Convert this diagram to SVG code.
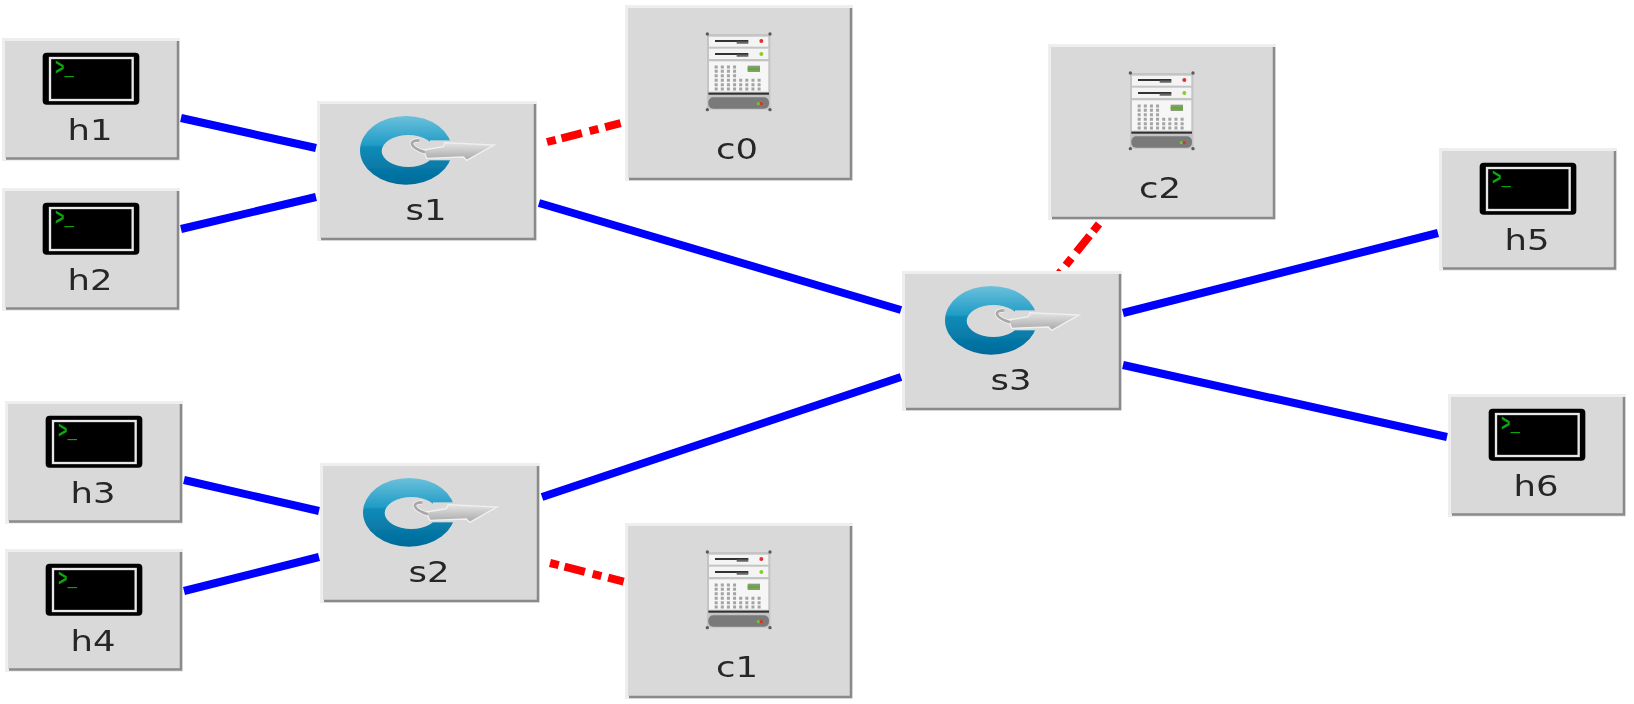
<svg xmlns="http://www.w3.org/2000/svg" width="1634" height="704" viewBox="0 0 1634 704">
<style>
.bo{fill:#eeeeee}
.bg{fill:#d9d9d9}
.ed{fill:none;stroke:#8a8a8a;stroke-width:2.5}
.lb{font-family:"DejaVu Sans",sans-serif;font-size:29px;fill:#262626;text-anchor:middle;filter:url(#soft)}
.pr{font-family:"Liberation Mono",monospace;font-size:24px;fill:#0aa80a;font-weight:bold;filter:url(#soft)}
.link{stroke:#0000ff;stroke-width:8;fill:none}
.ctl{stroke:#ff0000;stroke-width:8;fill:none;stroke-dasharray:9 6 21 8 9 7 16 8}
.dot{stroke:#a4a4a4;stroke-width:9;stroke-dasharray:9 9.4;fill:none}
</style>
<defs>
<filter id="soft" x="-5%" y="-5%" width="110%" height="110%"><feGaussianBlur stdDeviation="0.6"/></filter>
<linearGradient id="ring" x1="0" y1="0" x2="0" y2="1">
<stop offset="0" stop-color="#6cc0dc"/><stop offset=".42" stop-color="#1f9cc6"/><stop offset=".45" stop-color="#0f8cb8"/><stop offset="1" stop-color="#006a9a"/>
</linearGradient>
<linearGradient id="arr" x1="0" y1="0" x2="0" y2="1">
<stop offset="0" stop-color="#e4e4e4"/><stop offset="1" stop-color="#a8a8a8"/>
</linearGradient>
<g id="hostBox" filter="url(#soft)">
<rect class="bo" width="178" height="123"/>
<rect class="bg" x="3" y="3" width="172" height="117"/>
<path class="ed" d="M176 3V120.500H4"/>
<g transform="translate(-2,-8) scale(.33333)">
<rect x="128" y="68" width="290" height="156" rx="12" fill="#000"/>
<rect x="150" y="84" width="248" height="126" fill="#000" stroke="#e8e8e8" stroke-width="7"/>
</g>
</g>
<g id="switchBox" filter="url(#soft)">
<rect class="bo" width="220" height="140"/>
<rect class="bg" x="3" y="3" width="214" height="134"/>
<path class="ed" d="M218 3V138H4"/>
<g transform="translate(-7,-6) scale(.33333)">
<path d="M150 166A138 103 0 1 0 426 166A138 103 0 1 0 150 166ZM215 168A80 48 0 1 0 375 168A80 48 0 1 0 215 168Z" fill="url(#ring)" fill-rule="evenodd"/>
<rect x="360" y="136" width="72" height="60" fill="#d9d9d9"/>
<path d="M340 165L400 155L405 143L552 150L470 196L460 186L350 190Z" fill="url(#arr)" stroke="#f0f0f0" stroke-width="4"/>
<path d="M328 136C296 136 296 156 345 172" fill="none" stroke="#f2f2f2" stroke-width="13"/>
<path d="M328 136C296 136 296 156 345 172" fill="none" stroke="#a8a8a8" stroke-width="8"/>
</g>
</g>
<g id="ctlBox" filter="url(#soft)">
<rect class="bo" width="228" height="176"/>
<rect class="bg" x="3" y="3" width="222" height="170"/>
<path class="ed" d="M226 3V174H4"/>
<g transform="translate(-95,-5) scale(.33333)">
<rect x="531" y="102" width="190" height="227" fill="#c4c4c4"/>
<g fill="#5a5a5a"><circle cx="532" cy="102" r="5"/><circle cx="720" cy="102" r="5"/><circle cx="532" cy="329" r="5"/><circle cx="720" cy="329" r="5"/></g>
<rect x="537" y="110" width="178" height="30" fill="#f4f4f4"/>
<rect x="537" y="146" width="178" height="31" fill="#f4f4f4"/>
<rect x="537" y="184" width="178" height="91" fill="#f6f6f6"/>
<path d="M555 123H655M555 162H655" stroke="#333" stroke-width="6"/>
<path d="M620 128H655M620 167H655" stroke="#666" stroke-width="7"/>
<circle cx="694" cy="123" r="6" fill="#e03030"/>
<circle cx="694" cy="162" r="6" fill="#88cc33"/>
<rect x="653" y="197" width="37" height="19" fill="#8a9a80"/>
<rect x="653" y="203" width="37" height="8" fill="#66aa33"/>
<path class="dot" d="M554 201H622M554 214H622M554 227H622M554 241H694M554 254H694M554 267H694"/>
<rect x="535" y="278" width="182" height="6" fill="#2e2e2e"/>
<rect x="535" y="292" width="182" height="34" rx="15" fill="#7a7a7a"/>
<circle cx="685" cy="311" r="5" fill="#66cc33"/>
<circle cx="694" cy="311" r="5" fill="#dd3322"/>
</g>
</g>
</defs>
<rect width="1634" height="704" fill="#ffffff"/>
<g id="connectors" filter="url(#soft)">
<line class="link" x1="181" y1="118" x2="316" y2="148"/>
<line class="link" x1="181" y1="229" x2="316" y2="197"/>
<line class="link" x1="539" y1="203" x2="901" y2="310"/>
<line class="link" x1="184" y1="480" x2="319" y2="511"/>
<line class="link" x1="184" y1="591" x2="319" y2="557"/>
<line class="link" x1="542" y1="497" x2="901" y2="377"/>
<line class="link" x1="1123" y1="313" x2="1438" y2="233"/>
<line class="link" x1="1123" y1="365" x2="1447" y2="437"/>
<line class="ctl" x1="547" y1="142" x2="625" y2="122"/>
<line class="ctl" x1="550" y1="563" x2="625" y2="582"/>
<line class="ctl" x1="1099" y1="224" x2="1058" y2="275"/>
</g>
<g id="h1" transform="translate(2,38)"><use href="#hostBox"/><text class="pr" x="53" y="37" textLength="19" lengthAdjust="spacingAndGlyphs">&gt;_</text><text class="lb" x="88" y="102" textLength="45" lengthAdjust="spacingAndGlyphs">h1</text></g>
<g id="h2" transform="translate(2,188)"><use href="#hostBox"/><text class="pr" x="53" y="37" textLength="19" lengthAdjust="spacingAndGlyphs">&gt;_</text><text class="lb" x="88" y="102" textLength="45" lengthAdjust="spacingAndGlyphs">h2</text></g>
<g id="h3" transform="translate(5,401)"><use href="#hostBox"/><text class="pr" x="53" y="37" textLength="19" lengthAdjust="spacingAndGlyphs">&gt;_</text><text class="lb" x="88" y="102" textLength="45" lengthAdjust="spacingAndGlyphs">h3</text></g>
<g id="h4" transform="translate(5,549)"><use href="#hostBox"/><text class="pr" x="53" y="37" textLength="19" lengthAdjust="spacingAndGlyphs">&gt;_</text><text class="lb" x="88" y="102" textLength="45" lengthAdjust="spacingAndGlyphs">h4</text></g>
<g id="h5" transform="translate(1439,148)"><use href="#hostBox"/><text class="pr" x="53" y="37" textLength="19" lengthAdjust="spacingAndGlyphs">&gt;_</text><text class="lb" x="88" y="102" textLength="45" lengthAdjust="spacingAndGlyphs">h5</text></g>
<g id="h6" transform="translate(1448,394)"><use href="#hostBox"/><text class="pr" x="53" y="37" textLength="19" lengthAdjust="spacingAndGlyphs">&gt;_</text><text class="lb" x="88" y="102" textLength="45" lengthAdjust="spacingAndGlyphs">h6</text></g>
<g id="s1" transform="translate(317,101)"><use href="#switchBox"/><text class="lb" x="109" y="119" textLength="41" lengthAdjust="spacingAndGlyphs">s1</text></g>
<g id="s2" transform="translate(320,463)"><use href="#switchBox"/><text class="lb" x="109" y="119" textLength="41" lengthAdjust="spacingAndGlyphs">s2</text></g>
<g id="s3" transform="translate(902,271)"><use href="#switchBox"/><text class="lb" x="109" y="119" textLength="41" lengthAdjust="spacingAndGlyphs">s3</text></g>
<g id="c0" transform="translate(625,5)"><use href="#ctlBox"/><text class="lb" x="112" y="154" textLength="42" lengthAdjust="spacingAndGlyphs">c0</text></g>
<g id="c1" transform="translate(625,523)"><use href="#ctlBox"/><text class="lb" x="112" y="154" textLength="42" lengthAdjust="spacingAndGlyphs">c1</text></g>
<g id="c2" transform="translate(1048,44)"><use href="#ctlBox"/><text class="lb" x="112" y="154" textLength="42" lengthAdjust="spacingAndGlyphs">c2</text></g>
</svg>
